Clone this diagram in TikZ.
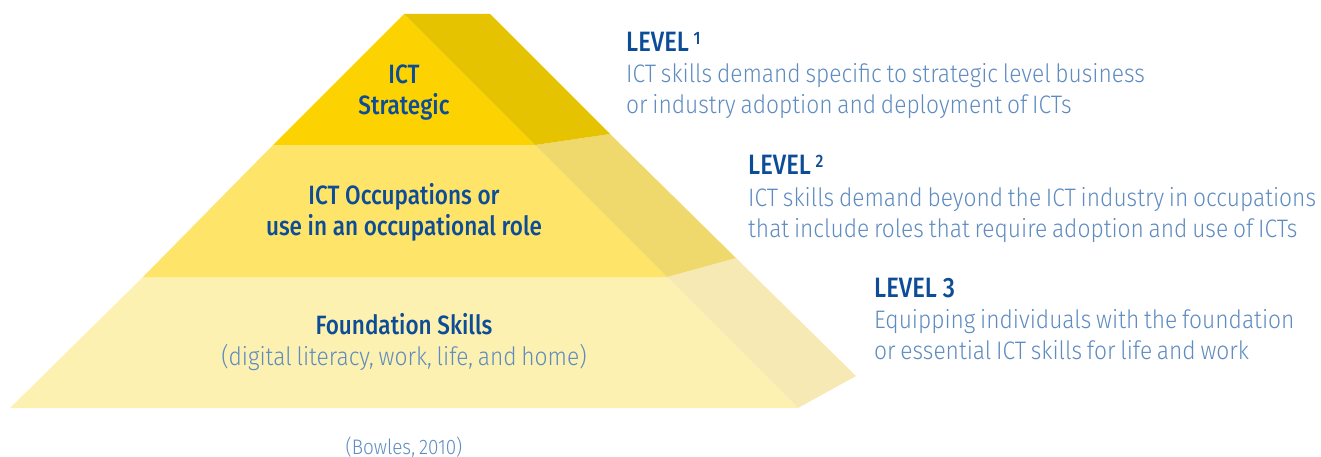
\documentclass[tikz,border=0pt]{standalone}
\usepackage{fontspec}
\setmainfont{Fira Sans Light}[FakeStretch=0.9,WordSpace=0.75]
\newfontfamily\medfont{Fira Sans Medium}[FakeStretch=0.85]
\usetikzlibrary{positioning}

\definecolor{darkblue}{HTML}{0D4C96}
\definecolor{lightblue}{HTML}{5E8BC0}
\definecolor{topfront}{HTML}{FCD300}
\definecolor{topside}{HTML}{E6C300}
\definecolor{midfront}{HTML}{FEE468}
\definecolor{midside}{HTML}{F0D96C}
\definecolor{lowfront}{HTML}{FCF1B1}
\definecolor{lowside}{HTML}{F6E9B4}

\tikzset{
  heading/.style={font=\medfont\fontsize{28}{28}\selectfont, text=darkblue, inner sep=0pt, anchor=base west},
  desc/.style={font=\fontsize{25.3}{31}\selectfont, text=lightblue, inner sep=0pt, align=left, anchor=base west},
  tier/.style={font=\medfont\fontsize{26.5}{31}\selectfont, text=darkblue, inner sep=0pt, align=center, anchor=base},
}

\begin{document}
\begin{tikzpicture}[x=1pt,y=-1pt]
  \useasboundingbox (0,0) rectangle (1321,457);

  % pyramid, bottom tier first
  \fill[lowfront] (143,277) -- (667,277) -- (798,408) -- (10,408) -- cycle;
  \fill[lowside] (667,277) -- (736,258) -- (856,376) -- (798,408) -- cycle;
  \fill[midfront] (273,145) -- (535,145) -- (667,277) -- (143,277) -- cycle;
  \fill[midside] (535,145) -- (610,134) -- (736,258) -- (667,277) -- cycle;
  \fill[topfront] (404,14) -- (535,145) -- (273,145) -- cycle;
  \fill[topside] (404,14) -- (490,14) -- (610,134) -- (535,145) -- cycle;

  % labels on the tiers (base = last line)
  \node[tier] (strategic) at (404,115) {ICT\\Strategic};
  \node[tier] (occupations) at (404,235) {ICT Occupations or\\use in an occupational role};
  \node[tier] (foundation) at (404,334) {Foundation Skills};
  \node[desc, anchor=base] (foundationsub) at (404,365) {(digital literacy, work, life, and home)};

  % level descriptions
  \node[heading] (level1) at (626,52) {LEVEL\,\raisebox{7pt}{\fontsize{18}{18}\selectfont 1}};
  \node[desc] (desc1) at (626,114) {ICT skills demand specific to strategic level business\\or industry adoption and deployment of ICTs};
  \node[heading] (level2) at (748,175) {LEVEL\,\raisebox{7pt}{\fontsize{18}{18}\selectfont 2}};
  \node[desc] (desc2) at (748,237) {ICT skills demand beyond the ICT industry in occupations\\that include roles that require adoption and use of ICTs};
  \node[heading] (level3) at (874,297) {LEVEL 3};
  \node[desc] (desc3) at (874,359) {Equipping individuals with the foundation\\or essential ICT skills for life and work};

  \node[desc, anchor=base, font=\fontsize{21}{21}\selectfont] (source) at (404,454) {(Bowles, 2010)};
\end{tikzpicture}
\end{document}
